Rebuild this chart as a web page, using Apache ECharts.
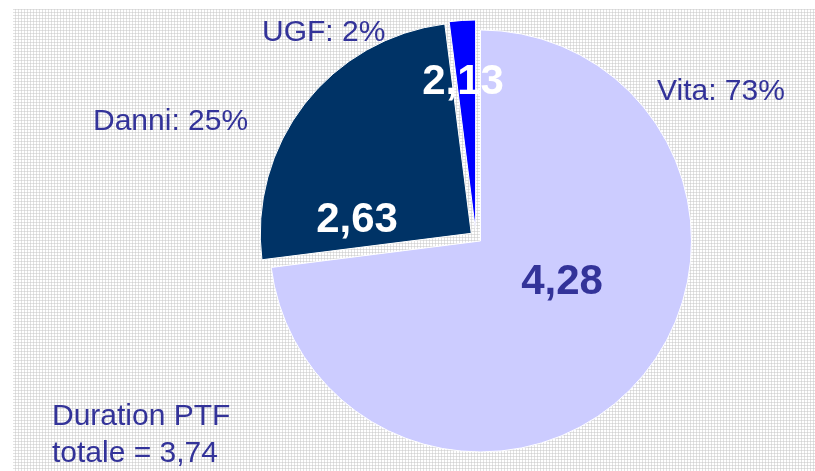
<html>
    <head>
        <meta charset="utf-8">
        <script src="https://cdn.jsdelivr.net/npm/echarts@6/dist/echarts.min.js"></script>
        <style>
            html, body { margin: 0; padding: 0; background: #fff; }
            #main { width: 815px; height: 471px; }
        </style>
    </head>
    <body>
        <div id="main"></div>
        <script>
            var categories = ['Vita', 'Danni', 'UGF'];
            var shares = [73, 25, 2];
            var durations = [4.28, 2.63, 2.13];
            var totalDuration = 3.74;

            var sliceColors = ['#CCCCFF', '#003366', '#0000FF'];
            var valueColors = ['#333399', '#ffffff', '#ffffff'];
            var font = '"Liberation Sans", Arial, sans-serif';

            // label anchors (pixels)
            var valuePos = [[562, 282], [357, 220], [463, 82]];
            var namePos = [[657, 92], [93, 122], [262, 33]];

            function comma(v) {
                return v.toFixed(2).replace('.', ',');
            }

            // grey dotted backdrop like the slide pattern
            var tile = document.createElement('canvas');
            tile.width = 3;
            tile.height = 3;
            var ctx = tile.getContext('2d');
            ctx.fillStyle = '#ffffff';
            ctx.fillRect(0, 0, 3, 3);
            ctx.fillStyle = '#e2e2e2';
            ctx.fillRect(0, 0, 3, 1);
            ctx.fillRect(0, 0, 1, 3);
            ctx.fillStyle = '#d4d4d4';
            ctx.fillRect(0, 0, 1, 1);

            var chart = echarts.init(document.getElementById('main'));

            var sliceData = categories.map(function (name, i) {
                return {
                    name: name,
                    value: shares[i],
                    selected: true,
                    itemStyle: { color: sliceColors[i] }
                };
            });

            var graphics = [
                {
                    type: 'rect',
                    z: -10,
                    shape: { x: 13, y: 9, width: 802, height: 462 },
                    style: { fill: { image: tile, repeat: 'repeat' } },
                    silent: true
                },
                {
                    type: 'text',
                    left: 52,
                    top: 398,
                    style: {
                        text: 'Duration PTF\ntotale = ' + comma(totalDuration),
                        font: '30px ' + font,
                        fill: '#333399',
                        lineHeight: 37
                    }
                }
            ];

            categories.forEach(function (name, i) {
                graphics.push({
                    type: 'text',
                    z: 10,
                    x: valuePos[i][0],
                    y: valuePos[i][1],
                    style: {
                        text: comma(durations[i]),
                        font: 'bold 42px ' + font,
                        fill: valueColors[i],
                        align: 'center',
                        verticalAlign: 'middle'
                    }
                });
                graphics.push({
                    type: 'text',
                    z: 10,
                    x: namePos[i][0],
                    y: namePos[i][1],
                    style: {
                        text: name + ': ' + shares[i] + '%',
                        font: '30px ' + font,
                        fill: '#333399',
                        align: 'left',
                        verticalAlign: 'middle'
                    }
                });
            });

            var option = {
                animation: false,
                graphic: graphics,
                series: [
                    {
                        name: 'duration',
                        type: 'pie',
                        center: [476, 237],
                        radius: 211,
                        startAngle: 90,
                        selectedMode: 'multiple',
                        selectedOffset: 6,
                        silent: true,
                        itemStyle: { borderColor: '#ffffff', borderWidth: 1 },
                        label: { show: false },
                        labelLine: { show: false },
                        data: sliceData
                    }
                ]
            };
            chart.setOption(option);
        </script>
    </body>
</html>
